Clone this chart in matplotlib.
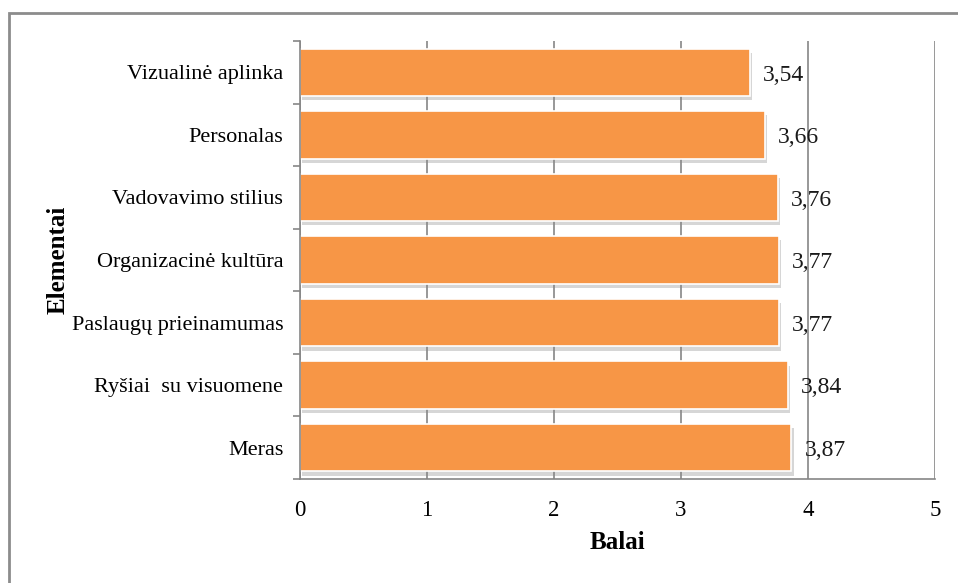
import matplotlib
matplotlib.use('Agg')
import matplotlib.pyplot as plt
import matplotlib.patheffects as pe
from matplotlib.patches import Rectangle
from matplotlib.ticker import FixedLocator
import numpy as np

elementai = ['Vizualinė aplinka', 'Personalas', 'Vadovavimo stilius',
             'Organizacinė kultūra', 'Paslaugų prieinamumas',
             'Ryšiai  su visuomene', 'Meras']
balai = [3.54, 3.66, 3.76, 3.77, 3.77, 3.84, 3.87]
x_ticks = [0, 1, 2, 3, 4, 5]

bar_color = '#F79646'
grid_color = '#868686'

plt.rcParams['font.family'] = ['Liberation Serif', 'DejaVu Serif']

fig = plt.figure(figsize=(9.58, 5.83), dpi=100)
W, H = 958, 583
ax = fig.add_axes([300 / W, 1 - 479 / H, 635 / W, 438 / H])

# outer frame of the chart area (runs past the right and bottom edges)
fig.patches.append(Rectangle((9 / W, -0.1), 1.2, 1 - 13 / H + 0.1,
                             transform=fig.transFigure, fill=False,
                             edgecolor='#8c8c8c', linewidth=2))

y = np.arange(len(elementai))
bars = ax.barh(y, balai, height=0.76, color=bar_color, edgecolor='white',
               linewidth=1.2, zorder=2)
for b in bars:
    b.set_path_effects([pe.SimplePatchShadow(offset=(1.5, -3), shadow_rgbFace='#8a8a8a', alpha=0.35),
                        pe.Normal()])

for yi, v in zip(y, balai):
    ax.annotate(f'{v:.2f}'.replace('.', ','), xy=(v, yi), xytext=(9.5, -2),
                textcoords='offset points', ha='left', va='center',
                fontsize=17, color='#1a1a1a', zorder=3)

ax.set_xlim(0, 5)
ax.set_ylim(len(elementai) - 0.5, -0.5)
ax.xaxis.set_major_locator(FixedLocator(x_ticks))
ax.set_yticks(y)
ax.set_yticklabels(elementai)
ax.yaxis.set_minor_locator(FixedLocator(np.arange(-0.5, len(elementai), 1)))

ax.grid(axis='x', color=grid_color, linewidth=1.2, zorder=0)
ax.set_axisbelow(True)
for s in ['top', 'right']:
    ax.spines[s].set_visible(False)
for s in ['left', 'bottom']:
    ax.spines[s].set_color(grid_color)
    ax.spines[s].set_linewidth(1.2)

ax.tick_params(axis='y', which='major', length=0, pad=12, labelsize=16)
ax.tick_params(axis='y', which='minor', length=5, color=grid_color, width=1.2)
ax.tick_params(axis='x', length=0, pad=15, labelsize=16.5)

ax.set_xlabel('Balai', fontsize=18, fontweight='bold')
ax.set_ylabel('Elementai', fontsize=18, fontweight='bold')
ax.xaxis.set_label_coords(0.5, (479 - 531) / 438)
ax.yaxis.set_label_coords((70 - 300) / 635, 0.5)

fig.savefig('out.png', dpi=100)
